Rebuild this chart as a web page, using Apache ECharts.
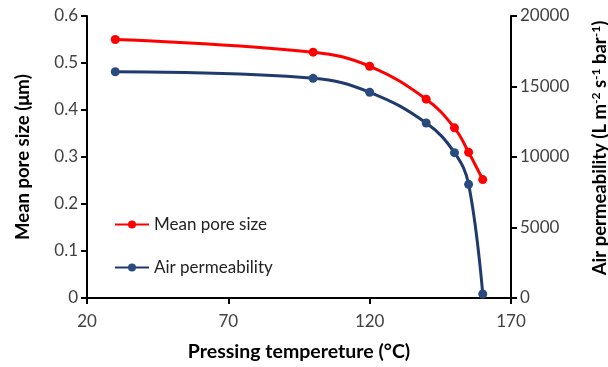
<!DOCTYPE html>
<html><head><meta charset="utf-8">
<script src="https://cdn.jsdelivr.net/npm/echarts@6/dist/echarts.min.js"></script>
<style>html,body{margin:0;padding:0;background:#fff}#c{width:608px;height:367px}</style>
</head><body><div id="c"></div>
<script>
const temperature = [30, 100, 120, 140, 150, 155, 160];
const meanPoreSize = [0.55, 0.523, 0.493, 0.423, 0.362, 0.31, 0.252];
const airPermeability = [16050, 15580, 14590, 12410, 10310, 8060, 280];
const xTicks = [20, 70, 120, 170];

const font = "Lato, 'Open Sans', sans-serif";
const chart = echarts.init(document.getElementById('c'), null, {renderer: 'canvas'});
const tick = {show: true, length: 6, lineStyle: {color: '#000', width: 2}};
const nameBase = {fontFamily: font, fontWeight: 'bold', color: '#000'};
chart.setOption({
  animation: false,
  grid: {left: 87, right: 97, top: 16, bottom: 69, containLabel: false, outerBoundsMode: 'none'},
  legend: {
    orient: 'vertical', left: 109, top: 211, itemGap: 26,
    itemWidth: 34, itemHeight: 10,
    textStyle: {fontFamily: font, fontSize: 17, color: '#222'},
    data: ['Mean pore size', 'Air permeability']
  },
  xAxis: {
    type: 'value', min: 20, max: 170, interval: 50,
    name: 'Pressing tempereture (°C)', nameLocation: 'middle', nameGap: 44,
    nameTextStyle: Object.assign({fontSize: 19.5}, nameBase),
    axisLine: {show: true, lineStyle: {color: '#000', width: 2}},
    axisTick: tick,
    axisLabel: {fontFamily: font, fontSize: 17, color: '#404040', margin: 15},
    splitLine: {show: false}
  },
  yAxis: [{
    type: 'value', min: 0, max: 0.6, interval: 0.1,
    name: 'Mean pore size (μm)', nameLocation: 'middle', nameGap: 54,
    nameTextStyle: Object.assign({fontSize: 18.5}, nameBase),
    axisLine: {show: true, lineStyle: {color: '#000', width: 2}},
    axisTick: tick,
    axisLabel: {fontFamily: font, fontSize: 17, color: '#404040', margin: 9},
    splitLine: {show: false}
  }, {
    type: 'value', min: 0, max: 20000, interval: 5000, position: 'right',
    name: 'Air permeability (L m{s|-2} s{s|-1} bar{s|-1})', nameLocation: 'middle', nameGap: 79,
    nameTextStyle: Object.assign({fontSize: 18.5, padding: [0, 0, 0, 18],
      rich: {s: Object.assign({fontSize: 12, verticalAlign: 'top', padding: [0, 0, 9, 0]}, nameBase)}}, nameBase),
    axisLine: {show: true, lineStyle: {color: '#000', width: 2}},
    axisTick: tick,
    axisLabel: {fontFamily: font, fontSize: 17, color: '#404040', margin: 9, formatter: v => String(v)},
    splitLine: {show: false}
  }],
  series: [{
    name: 'Mean pore size', type: 'line', yAxisIndex: 0, smooth: 0.4,
    data: temperature.map((t, i) => [t, meanPoreSize[i]]),
    symbol: 'circle', symbolSize: 9,
    lineStyle: {color: '#ff0000', width: 3}, itemStyle: {color: '#ff0000'}
  }, {
    name: 'Air permeability', type: 'line', yAxisIndex: 1, smooth: 0.4,
    data: temperature.map((t, i) => [t, airPermeability[i]]),
    symbol: 'circle', symbolSize: 9,
    lineStyle: {color: '#1f3b6e', width: 3}, itemStyle: {color: '#2a4a80'}
  }]
});
</script></body></html>
